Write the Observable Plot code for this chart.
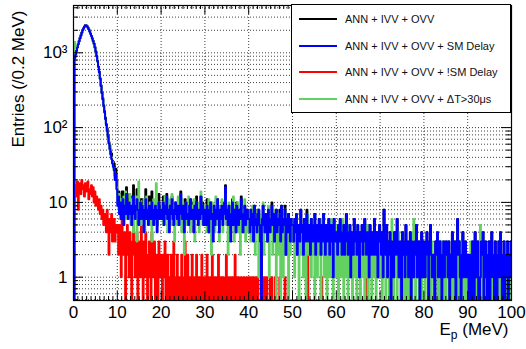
<!DOCTYPE html>
<html><head><meta charset="utf-8">
<script src="https://cdn.jsdelivr.net/npm/d3@7"></script>
<script src="https://cdn.jsdelivr.net/npm/@observablehq/plot@0.6"></script>
<style>
body{margin:0;background:#fff}
#wrap{position:relative;width:526px;height:349px;font-family:"Liberation Sans",Arial,sans-serif}
#legend{position:absolute;left:291px;top:4px;width:220px;height:109px;box-sizing:border-box;border:1px solid #000;background:#fff}
.row{position:absolute;left:0;height:14px;display:flex;align-items:center;font-size:11px;color:#111}
.row .sw{position:absolute;left:7px;width:38px;height:2px}
.row .lb{position:absolute;left:53px;white-space:nowrap}
</style>
</head><body>
<div id="wrap"><div id="chart"></div><div id="legend"></div></div>
<script>
// ---- data: 500 bins of 0.2 MeV, 0-100 MeV ----
const binWidth = 0.2;
const xMin = 0, xMax = 100;
const seriesNames = ["ANN + IVV + OVV", "ANN + IVV + OVV + SM Delay", "ANN + IVV + OVV + !SM Delay", "ANN + IVV + OVV + \u0394T>30\u03bcs"];
const seriesColors = ["#000000", "#0000ff", "#ff0000", "#62d162"];

const blackCounts = [
0,864,967,1072,1199,1308,1446,1588,1713,1870,2015,2137,2242,2328,2334,2276,2189,2071,1945,1813,1697,1562,1446,1330,1194,1049,912,780,658,561,457,369,296,248,200,167,136,112,98,80,64,58,48,45,36,35,33,23,28,20,
13,14,12,13,7,14,14,7,13,7,16,13,8,11,11,12,5,10,17,10,7,11,15,8,8,9,11,11,11,8,7,8,15,8,8,7,12,8,6,14,10,6,10,9,8,5,8,13,7,9,
9,6,12,6,12,7,13,8,8,5,9,9,12,6,8,9,10,8,8,9,6,8,14,9,6,9,5,11,10,7,9,5,10,11,6,10,8,4,10,6,12,7,6,9,6,12,9,10,5,9,
8,5,11,7,4,9,10,6,9,4,9,6,9,6,11,9,5,8,7,9,6,7,10,17,8,8,6,9,7,4,6,11,5,8,8,4,10,7,6,8,6,12,7,4,7,9,5,8,8,6,
7,4,8,6,7,4,9,5,7,4,8,8,5,3,1,6,9,6,4,7,7,3,8,5,5,6,10,5,7,3,6,8,4,6,5,8,3,9,4,6,5,9,2,6,4,7,5,3,6,5,
5,3,6,4,7,2,5,4,3,8,4,5,2,6,3,4,8,5,5,4,2,6,4,3,5,7,2,4,5,3,6,4,2,6,3,7,4,2,5,3,4,6,2,4,5,3,1,6,4,3,
4,2,5,3,6,3,2,4,5,2,3,7,4,2,3,5,1,4,3,2,6,3,4,2,5,3,1,4,3,5,2,4,6,3,2,5,3,1,5,2,3,4,2,6,3,2,4,1,3,5,
3,2,4,1,8,3,2,5,1,3,2,4,0,3,2,1,4,2,3,6,2,1,3,2,0,4,3,2,1,5,2,3,1,2,4,0,3,2,1,3,2,5,1,2,3,0,2,4,1,3,
2,1,3,4,2,0,3,5,2,1,2,1,0,3,2,4,1,2,3,1,0,2,3,1,2,3,2,1,3,0,2,1,4,2,1,3,0,2,6,2,3,1,0,2,4,1,2,3,1,2,
2,0,1,2,0,3,2,0,4,2,1,3,0,0,1,3,2,4,0,2,3,1,0,2,3,0,1,4,2,1,0,3,2,0,2,3,1,4,2,0,1,3,0,1,2,3,0,2,1,3
];

const blueCounts = [
0,850,950,1060,1180,1300,1430,1570,1700,1850,2000,2120,2230,2310,2320,2260,2170,2060,1930,1800,1680,1550,1430,1320,1180,1040,900,770,650,550,450,360,290,240,195,160,130,108,90,75,62,52,44,38,33,30,27,20,24,15,
9,12,7,10,6,8,11,5,9,7,13,8,6,10,7,9,5,8,12,7,6,9,11,8,5,7,10,6,9,8,4,7,11,6,8,5,9,7,6,10,8,5,7,9,6,4,8,10,6,7,
8,6,10,5,9,7,12,6,8,4,9,7,11,6,5,8,10,7,6,9,5,8,13,7,6,9,4,8,10,6,7,5,9,11,6,8,7,4,9,6,10,7,5,8,6,12,7,9,5,8,
7,5,9,6,4,8,10,6,7,3,9,5,8,6,11,7,4,8,6,9,5,7,10,16,6,8,5,9,7,3,6,10,5,8,6,4,9,7,5,8,6,11,7,4,6,9,5,7,8,6,
6,4,8,5,7,3,9,5,6,4,7,8,5,3,0,6,9,5,4,7,6,3,8,5,4,6,9,5,7,3,5,8,4,6,5,7,3,9,4,6,5,8,2,6,4,7,5,3,6,5,
5,3,6,4,7,2,5,4,3,8,4,5,2,6,3,4,7,3,5,4,2,6,4,3,5,7,2,4,5,3,6,4,2,5,3,7,4,2,5,3,4,6,2,4,5,3,1,6,4,3,
4,2,5,3,6,3,2,4,5,2,3,7,4,2,3,5,1,4,3,2,6,3,4,2,5,3,1,4,3,5,2,4,6,3,2,4,3,1,5,2,3,4,2,6,3,2,4,1,3,5,
3,2,4,1,8,3,2,5,1,3,2,4,0,3,2,1,4,2,3,6,2,1,3,2,0,4,3,2,1,5,2,3,1,2,4,0,3,2,1,3,2,5,1,2,3,0,2,4,1,3,
2,1,3,4,2,0,3,5,2,1,2,1,0,3,2,4,1,2,3,1,0,2,3,1,2,3,2,1,3,0,2,1,4,2,1,3,0,2,6,2,3,1,0,2,4,1,2,3,1,2,
2,0,1,2,0,3,2,0,4,2,1,3,0,0,1,3,2,4,0,2,3,1,0,2,3,0,1,4,2,1,0,3,2,0,2,3,1,4,2,0,1,3,0,1,2,3,0,2,1,3
];

const redCounts = [
0,14,17,12,19,8,16,18,13,20,15,17,12,18,14,16,19,11,15,13,17,12,16,10,14,9,12,10,8,11,7,9,6,8,5,7,6,4,8,5,2,6,4,7,3,5,6,3,4,5,
4,2,5,3,1,6,3,2,4,0,3,5,2,1,4,3,0,2,5,3,1,2,4,0,3,2,1,5,2,0,3,1,4,2,0,2,3,1,0,4,2,1,3,0,2,1,0,3,1,2,
1,0,2,1,3,0,1,2,0,1,0,2,1,0,3,1,0,1,2,0,1,0,1,2,0,0,1,3,0,1,2,0,1,0,0,2,1,0,1,0,2,0,1,1,0,0,2,1,0,1,
1,0,2,1,0,1,0,0,2,1,0,1,1,0,0,2,1,0,1,0,1,0,0,1,2,0,1,0,0,1,0,1,0,0,2,0,1,0,1,0,0,1,0,0,1,0,0,1,0,0,
1,0,0,1,0,1,0,0,1,0,1,0,0,0,1,0,0,1,0,0,1,0,0,0,1,0,1,0,0,0,1,0,0,0,0,1,0,0,0,0,0,1,0,0,0,0,0,0,0,0,
0,0,0,0,0,0,0,0,0,0,0,0,0,0,0,0,1,2,0,0,0,0,0,0,0,0,0,0,0,0,0,0,0,1,0,0,0,0,0,0,0,0,0,0,0,0,0,0,0,0,
0,0,0,0,0,0,0,0,0,0,0,0,0,0,0,0,0,0,0,0,0,0,0,0,0,0,0,0,0,0,0,0,0,0,0,1,0,0,0,0,0,0,0,0,0,0,0,0,0,0,
0,0,0,0,0,0,0,0,0,0,0,0,0,0,0,0,0,0,0,0,0,0,0,0,0,0,0,0,0,0,0,0,0,0,0,0,0,0,0,0,0,0,0,0,0,0,0,0,0,0,
0,0,0,0,0,0,0,0,0,0,0,0,0,0,0,0,0,0,0,0,0,0,0,0,0,0,0,0,0,0,0,0,0,0,0,0,0,0,0,0,0,0,0,0,0,0,0,0,0,0,
0,0,0,0,0,0,0,0,0,0,0,0,0,0,0,0,0,0,0,0,0,0,0,0,0,0,0,0,0,0,0,0,0,0,0,0,0,0,0,0,0,0,0,0,0,0,0,0,0,0
];

const greenCounts = [
0,1400,1250,1150,1220,1310,1420,1560,1690,1840,1990,2110,2220,2300,2310,2250,2160,2050,1920,1790,1670,1540,1420,1300,1170,1030,890,760,640,540,440,355,285,235,190,158,128,106,88,74,62,50,43,40,35,29,26,22,23,16,
10,8,13,6,11,9,7,12,8,14,6,10,9,7,13,5,8,11,4,9,7,12,3,8,19,6,10,5,9,7,11,4,8,12,6,9,5,10,7,3,8,11,6,9,18,5,7,10,6,8,
7,10,5,8,12,6,9,4,11,7,8,5,13,6,9,3,10,7,5,12,8,6,9,4,11,7,2,8,10,5,7,12,6,4,9,8,5,11,3,7,9,6,10,4,8,14,6,5,9,7,
6,9,4,8,11,5,7,2,10,6,8,4,12,7,5,9,3,8,6,11,4,7,9,13,5,8,2,10,6,4,9,7,12,3,8,5,6,10,4,7,2,9,6,8,5,11,3,7,6,4,
5,8,3,6,9,4,7,2,6,5,8,1,4,7,3,6,10,2,5,4,7,3,9,1,6,4,5,2,8,3,6,0,4,7,2,5,0,3,6,1,4,8,2,5,3,0,6,2,4,5,
3,6,1,4,7,2,5,0,3,6,2,4,1,5,3,0,4,7,2,3,5,1,4,2,6,0,3,5,1,4,2,3,0,6,2,4,1,3,5,0,2,4,1,3,6,2,0,4,3,1,
2,5,0,3,4,1,2,6,0,3,1,4,2,0,5,2,1,3,0,4,2,1,3,0,5,2,1,0,3,4,1,2,0,3,1,5,0,2,3,1,0,4,2,1,3,0,2,1,4,2,
1,3,0,2,4,1,0,3,2,1,0,2,3,6,1,0,2,1,3,0,2,4,1,0,2,1,3,0,1,2,0,3,1,0,2,1,0,4,6,1,0,3,1,2,0,1,3,0,2,1,
2,0,1,3,1,0,2,1,0,3,2,1,0,2,1,4,0,1,2,0,3,1,0,2,1,0,2,3,1,0,1,2,0,1,3,0,2,1,0,2,1,0,3,1,2,0,1,2,0,1,
1,2,0,3,1,0,2,1,3,0,2,1,0,2,5,1,0,2,1,0,3,1,2,0,1,2,0,1,3,0,2,1,0,2,1,3,0,1,2,0,1,2,0,1,3,0,2,1,0,2
];

const xTickValues = [0,10,20,30,40,50,60,70,80,90,100];
const yTickValues = [1,10,100,1000];
const yTickLabels = ["1","10","10\u00b2","10\u00b3"];
const yDomain = [0.488, 4290];

// ---- build ----
const W = 526, H = 349, mL = 73, mR = 15, mT = 5, mB = 49;
const fw = W - mL - mR, fh = H - mT - mB;

function toPoints(counts) {
  const pts = counts.map((c, i) => ({x: xMin + i * binWidth, y: Math.max(c, yDomain[0])}));
  pts.push({x: xMax, y: Math.max(counts[counts.length - 1], yDomain[0])});
  return pts;
}
const seriesCounts = [blackCounts, blueCounts, redCounts, greenCounts];
const drawOrder = [0, 2, 3, 1];

const yGrid = [];
for (let k = -1; k <= 3; k++) for (let m = 1; m <= 9; m++) {
  const v = m * Math.pow(10, k);
  if (v >= yDomain[0] && v <= yDomain[1]) yGrid.push(v);
}
const yMajor = yTickValues;
const yMinor = yGrid.filter(v => !yMajor.includes(v));
const xMinor = d3.range(1, 100).filter(v => v % 10 !== 0);
const xGrid = xTickValues.slice(1, -1);

const lineMarks = drawOrder.map(i => Plot.line(toPoints(seriesCounts[i]), {
  x: "x", y: "y", stroke: seriesColors[i], strokeWidth: 2, curve: "step-after", clip: true
}));

const dotted = {stroke: "#000", strokeWidth: 1, strokeDasharray: "1,2", strokeOpacity: 0.75};

const plot = Plot.plot({
  width: W, height: H, marginLeft: mL, marginRight: mR, marginTop: mT, marginBottom: mB,
  style: {fontFamily: "'Liberation Sans', Arial, sans-serif", background: "#fff", color: "#000"},
  x: {domain: [xMin, xMax]},
  y: {type: "log", domain: yDomain},
  marks: [
    Plot.ruleY(yGrid, dotted),
    Plot.ruleX(xGrid, dotted),
    ...lineMarks,
    Plot.tickX(xMinor, {x: d => d, insetTop: fh - 4, stroke: "#000"}),
    Plot.tickX(xMinor, {x: d => d, insetBottom: fh - 4, stroke: "#000"}),
    Plot.tickX(xTickValues, {x: d => d, insetTop: fh - 9, stroke: "#000"}),
    Plot.tickX(xTickValues, {x: d => d, insetBottom: fh - 9, stroke: "#000"}),
    Plot.tickY(yMinor, {y: d => d, insetRight: fw - 5, stroke: "#000"}),
    Plot.tickY(yMinor, {y: d => d, insetLeft: fw - 5, stroke: "#000"}),
    Plot.tickY(yMajor, {y: d => d, insetRight: fw - 10, stroke: "#000"}),
    Plot.tickY(yMajor, {y: d => d, insetLeft: fw - 10, stroke: "#000"}),
    Plot.frame({stroke: "#000", strokeWidth: 1.2}),
    Plot.axisX({ticks: xTickValues, tickSize: 0, tickPadding: 5, fontSize: 17, label: null, tickFormat: d => String(d)}),
    Plot.axisY({ticks: yTickValues, tickSize: 0, tickPadding: 6, fontSize: 17, label: null, tickFormat: d => yTickLabels[yTickValues.indexOf(d)]}),
    Plot.text(["Entries (/0.2 MeV)"], {frameAnchor: "top-left", rotate: -90, textAnchor: "end", lineAnchor: "middle", dx: -55, dy: 5, fontSize: 17}),
    Plot.text(["Ep (MeV)"], {frameAnchor: "bottom-right", textAnchor: "end", lineAnchor: "middle", dx: -3, dy: 29, fontSize: 17})
  ]
});
document.getElementById("chart").appendChild(plot);

// subscript for the x title
d3.select(plot).selectAll("text").filter(function() { return this.textContent === "Ep (MeV)"; })
  .each(function() {
    const t = d3.select(this);
    t.text(null);
    t.append("tspan").text("E");
    t.append("tspan").attr("dy", 4).attr("font-size", 12).text("p");
    t.append("tspan").attr("dy", -4).text(" (MeV)");
  });

// legend
const legend = document.getElementById("legend");
const legendOrder = [0, 1, 2, 3];
legendOrder.forEach((i, r) => {
  const row = document.createElement("div");
  row.className = "row";
  row.style.top = (7 + r * 26.7) + "px";
  row.style.width = "100%";
  const sw = document.createElement("div");
  sw.className = "sw";
  sw.style.background = seriesColors[i];
  const lb = document.createElement("div");
  lb.className = "lb";
  lb.textContent = seriesNames[i];
  row.appendChild(sw); row.appendChild(lb);
  legend.appendChild(row);
});
</script>
</body></html>
